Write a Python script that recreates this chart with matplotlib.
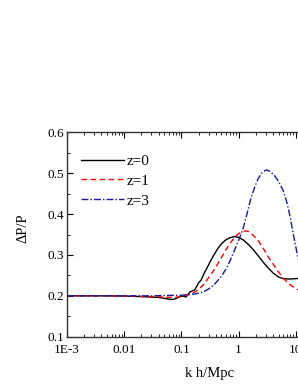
import numpy as np
import matplotlib
matplotlib.use("Agg")
import matplotlib.pyplot as plt
from matplotlib.ticker import LogLocator, FixedLocator, FixedFormatter

plt.rcParams["font.family"] = ["Liberation Serif", "DejaVu Serif"]

# z=0
k0 = [1e-3, 0.002, 0.005, 0.01, 0.02, 0.03, 0.04, 0.05, 0.06, 0.07, 0.08, 0.09, 0.1,
      0.11, 0.12, 0.13, 0.14, 0.15, 0.16, 0.17, 0.18, 0.2, 0.22, 0.25, 0.28, 0.32, 0.37,
      0.43, 0.5, 0.6, 0.7, 0.85, 1.0, 1.2, 1.5, 1.8, 2.2, 2.7, 3.3, 4.0, 5.0, 6.0, 7.5,
      10.0, 15.0]
v0 = [0.200, 0.200, 0.200, 0.1995, 0.198, 0.197, 0.196, 0.194, 0.192, 0.191, 0.193, 0.197, 0.199,
      0.199, 0.197, 0.203, 0.209, 0.211, 0.213, 0.214, 0.220, 0.232, 0.238, 0.255, 0.268, 0.284, 0.300,
      0.315, 0.327, 0.337, 0.342, 0.345, 0.343, 0.337, 0.325, 0.313, 0.298, 0.282, 0.268, 0.256, 0.246, 0.242, 0.241,
      0.242, 0.244]
# z=1
k1 = [1e-3, 0.003, 0.01, 0.03, 0.05, 0.07, 0.085, 0.1, 0.12, 0.14, 0.16, 0.18, 0.2,
      0.25, 0.3, 0.35, 0.41, 0.5, 0.6, 0.7, 0.85, 1.0, 1.15, 1.3, 1.5, 1.8, 2.2, 2.7,
      3.3, 4.0, 5.0, 6.0, 7.0, 8.5, 10.6, 15.0]
v1 = [0.200, 0.200, 0.1995, 0.198, 0.197, 0.196, 0.197, 0.199, 0.201, 0.204, 0.207, 0.211, 0.216,
      0.229, 0.245, 0.258, 0.273, 0.293, 0.313, 0.327, 0.343, 0.352, 0.357, 0.359, 0.357, 0.348, 0.335, 0.316,
      0.295, 0.278, 0.258, 0.244, 0.234, 0.224, 0.216, 0.207]
# z=3
k3 = [1e-3, 0.01, 0.03, 0.06, 0.1, 0.14, 0.18, 0.22, 0.26, 0.3, 0.36, 0.43, 0.5,
      0.6, 0.7, 0.8, 0.91, 1.05, 1.2, 1.4, 1.6, 1.9, 2.2, 2.6, 3.05, 3.5, 4.2, 5.0,
      6.0, 7.0, 8.0, 9.0, 10.6, 13.0, 16.0]
v3 = [0.200, 0.200, 0.200, 0.201, 0.2015, 0.203, 0.205, 0.208, 0.212, 0.217, 0.225, 0.237, 0.248,
      0.265, 0.284, 0.303, 0.322, 0.343, 0.365, 0.400, 0.433, 0.465, 0.487, 0.502, 0.508, 0.505, 0.495, 0.480,
      0.458, 0.428, 0.392, 0.352, 0.302, 0.250, 0.220]

xticks = [1e-3, 0.01, 0.1, 1, 10, 100]
xlabels = ["1E-3", "0.01", "0.1", "1", "10", "100"]
yticks = [0.1, 0.2, 0.3, 0.4, 0.5, 0.6]

fig = plt.figure(figsize=(2.98, 3.85), dpi=100)
ax = fig.add_axes([67 / 298, 1 - 336.7 / 385, 286 / 298, 204.4 / 385])

ax.plot(k0, v0, color="black", lw=1.0, label="z=0")
ax.plot(k1, v1, color="red", lw=1.0, ls=(0, (4, 2.5)), label="z=1")
ax.plot(k3, v3, color="#1a1a9a", lw=1.0, ls=(0, (5, 1.5, 1, 1.5)), label="z=3")

ax.set_xscale("log")
ax.set_xlim(1e-3, 100)
ax.set_ylim(0.1, 0.6)
ax.xaxis.set_major_locator(FixedLocator(xticks))
ax.xaxis.set_major_formatter(FixedFormatter(xlabels))
ax.xaxis.set_minor_locator(LogLocator(base=10, subs=np.arange(2, 10), numticks=20))
ax.xaxis.set_minor_formatter(FixedFormatter([]))
ax.set_yticks(yticks)
ax.set_yticklabels([f"{t:.1f}" for t in yticks])
ax.yaxis.set_minor_locator(FixedLocator(np.arange(0.15, 0.6, 0.1)))

ax.tick_params(which="both", direction="in", top=True, right=True, labelsize=9.5)
ax.tick_params(axis="x", pad=5)
ax.tick_params(axis="y", pad=2)
ax.tick_params(which="major", length=4, width=0.8)
ax.tick_params(which="minor", length=2, width=0.6)
for s in ax.spines.values():
    s.set_linewidth(1.0)
    s.set_color("#333333")

ax.set_xlabel("k h/Mpc", fontsize=10.5, labelpad=8)
ax.set_ylabel("\u0394P/P", fontsize=10.5)
ax.yaxis.set_label_coords(-0.13, 0.53)

ax.legend(loc="upper left", bbox_to_anchor=(0.0, 0.96), frameon=False, fontsize=11,
          handlelength=2.8, handletextpad=0.2, labelspacing=0.4, borderaxespad=0.5)

fig.savefig("out.png", dpi=100)
